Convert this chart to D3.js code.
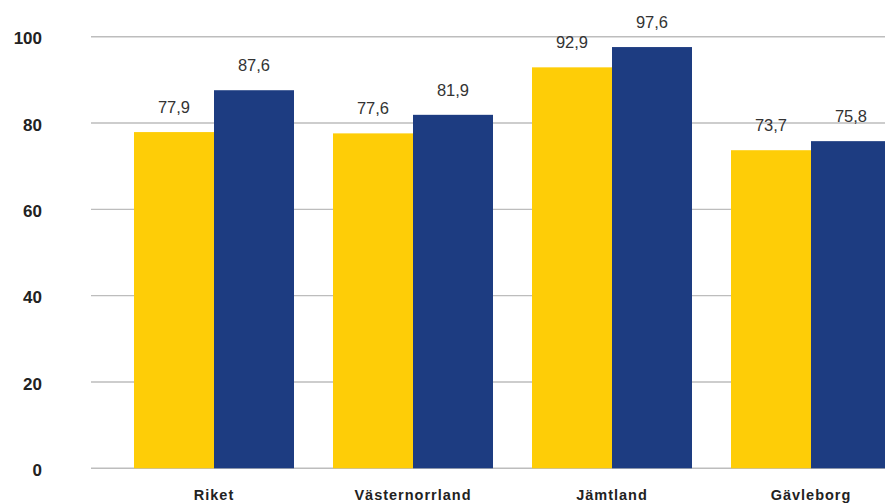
<!DOCTYPE html>
<html>
<head>
<meta charset="utf-8">
<script src="https://cdn.jsdelivr.net/npm/d3@7"></script>
<style>
  body { margin: 0; background: #fff; }
  svg { display: block; font-family: "Liberation Sans", Arial, sans-serif; }
</style>
</head>
<body>
<div id="chart"></div>
<script>
// Data
const categories = ["Riket", "Västernorrland", "Jämtland", "Gävleborg"];
const seriesNames = ["A", "B"];
const seriesA = [77.9, 77.6, 92.9, 73.7];
const seriesB = [87.6, 81.9, 97.6, 75.8];
const yTicks = [0, 20, 40, 60, 80, 100];
const colors = ["#FECD07", "#1D3C81"];

const width = 885, height = 504;

const svg = d3.select("#chart")
    .append("svg")
    .attr("width", width)
    .attr("height", height);

// Scales
const x0 = d3.scaleBand()
    .domain(categories)
    .range([114.5, 910.5])
    .paddingInner(0.196)
    .paddingOuter(0.098);

const x1 = d3.scaleBand()
    .domain(seriesNames)
    .range([0, x0.bandwidth()]);

const y = d3.scaleLinear()
    .domain([0, 100])
    .range([468.3, 36.7]);

const color = d3.scaleOrdinal().domain(seriesNames).range(colors);

// Gridlines
svg.append("g")
    .selectAll("line")
    .data(yTicks)
    .join("line")
    .attr("x1", 91)
    .attr("x2", width)
    .attr("y1", d => y(d))
    .attr("y2", d => y(d))
    .attr("stroke", "#bdbdbd")
    .attr("stroke-width", 1.4);

// Y axis labels
const yAxis = svg.append("g")
    .attr("transform", "translate(42,0)")
    .call(d3.axisLeft(y).tickValues(yTicks).tickSize(0).tickPadding(0));
yAxis.select(".domain").remove();
yAxis.selectAll("text")
    .attr("dy", "0.42em")
    .attr("fill", "#222")
    .style("font-size", "17px")
    .style("font-weight", "bold")
    .style("font-family", "'Liberation Sans', Arial, sans-serif");

// Bars
const rows = categories.map((c, i) => ({cat: c, values: [
    {key: "A", value: seriesA[i]},
    {key: "B", value: seriesB[i]}
]}));

const groups = svg.append("g")
    .selectAll("g")
    .data(rows)
    .join("g")
    .attr("transform", d => `translate(${x0(d.cat)},0)`);

groups.selectAll("rect")
    .data(d => d.values)
    .join("rect")
    .attr("x", d => x1(d.key))
    .attr("width", x1.bandwidth())
    .attr("y", d => y(d.value))
    .attr("height", d => y(0) - y(d.value))
    .attr("fill", d => color(d.key));

// Value labels
groups.selectAll("text")
    .data(d => d.values)
    .join("text")
    .attr("x", d => x1(d.key) + x1.bandwidth() / 2)
    .attr("y", d => y(d.value) - 19)
    .attr("text-anchor", "middle")
    .attr("fill", "#333")
    .style("font-size", "16.5px")
    .text(d => d3.format(".1f")(d.value).replace(".", ","));

// Category labels
const xAxis = svg.append("g")
    .attr("transform", `translate(0,${y(0)})`)
    .call(d3.axisBottom(x0).tickSize(0).tickPadding(0));
xAxis.select(".domain").remove();
xAxis.selectAll("text")
    .attr("y", 31.5)
    .attr("dy", 0)
    .attr("fill", "#222")
    .style("font-size", "14.5px")
    .style("font-weight", "bold")
    .style("letter-spacing", "1px")
    .style("font-family", "'Liberation Sans', Arial, sans-serif");
</script>
</body>
</html>
